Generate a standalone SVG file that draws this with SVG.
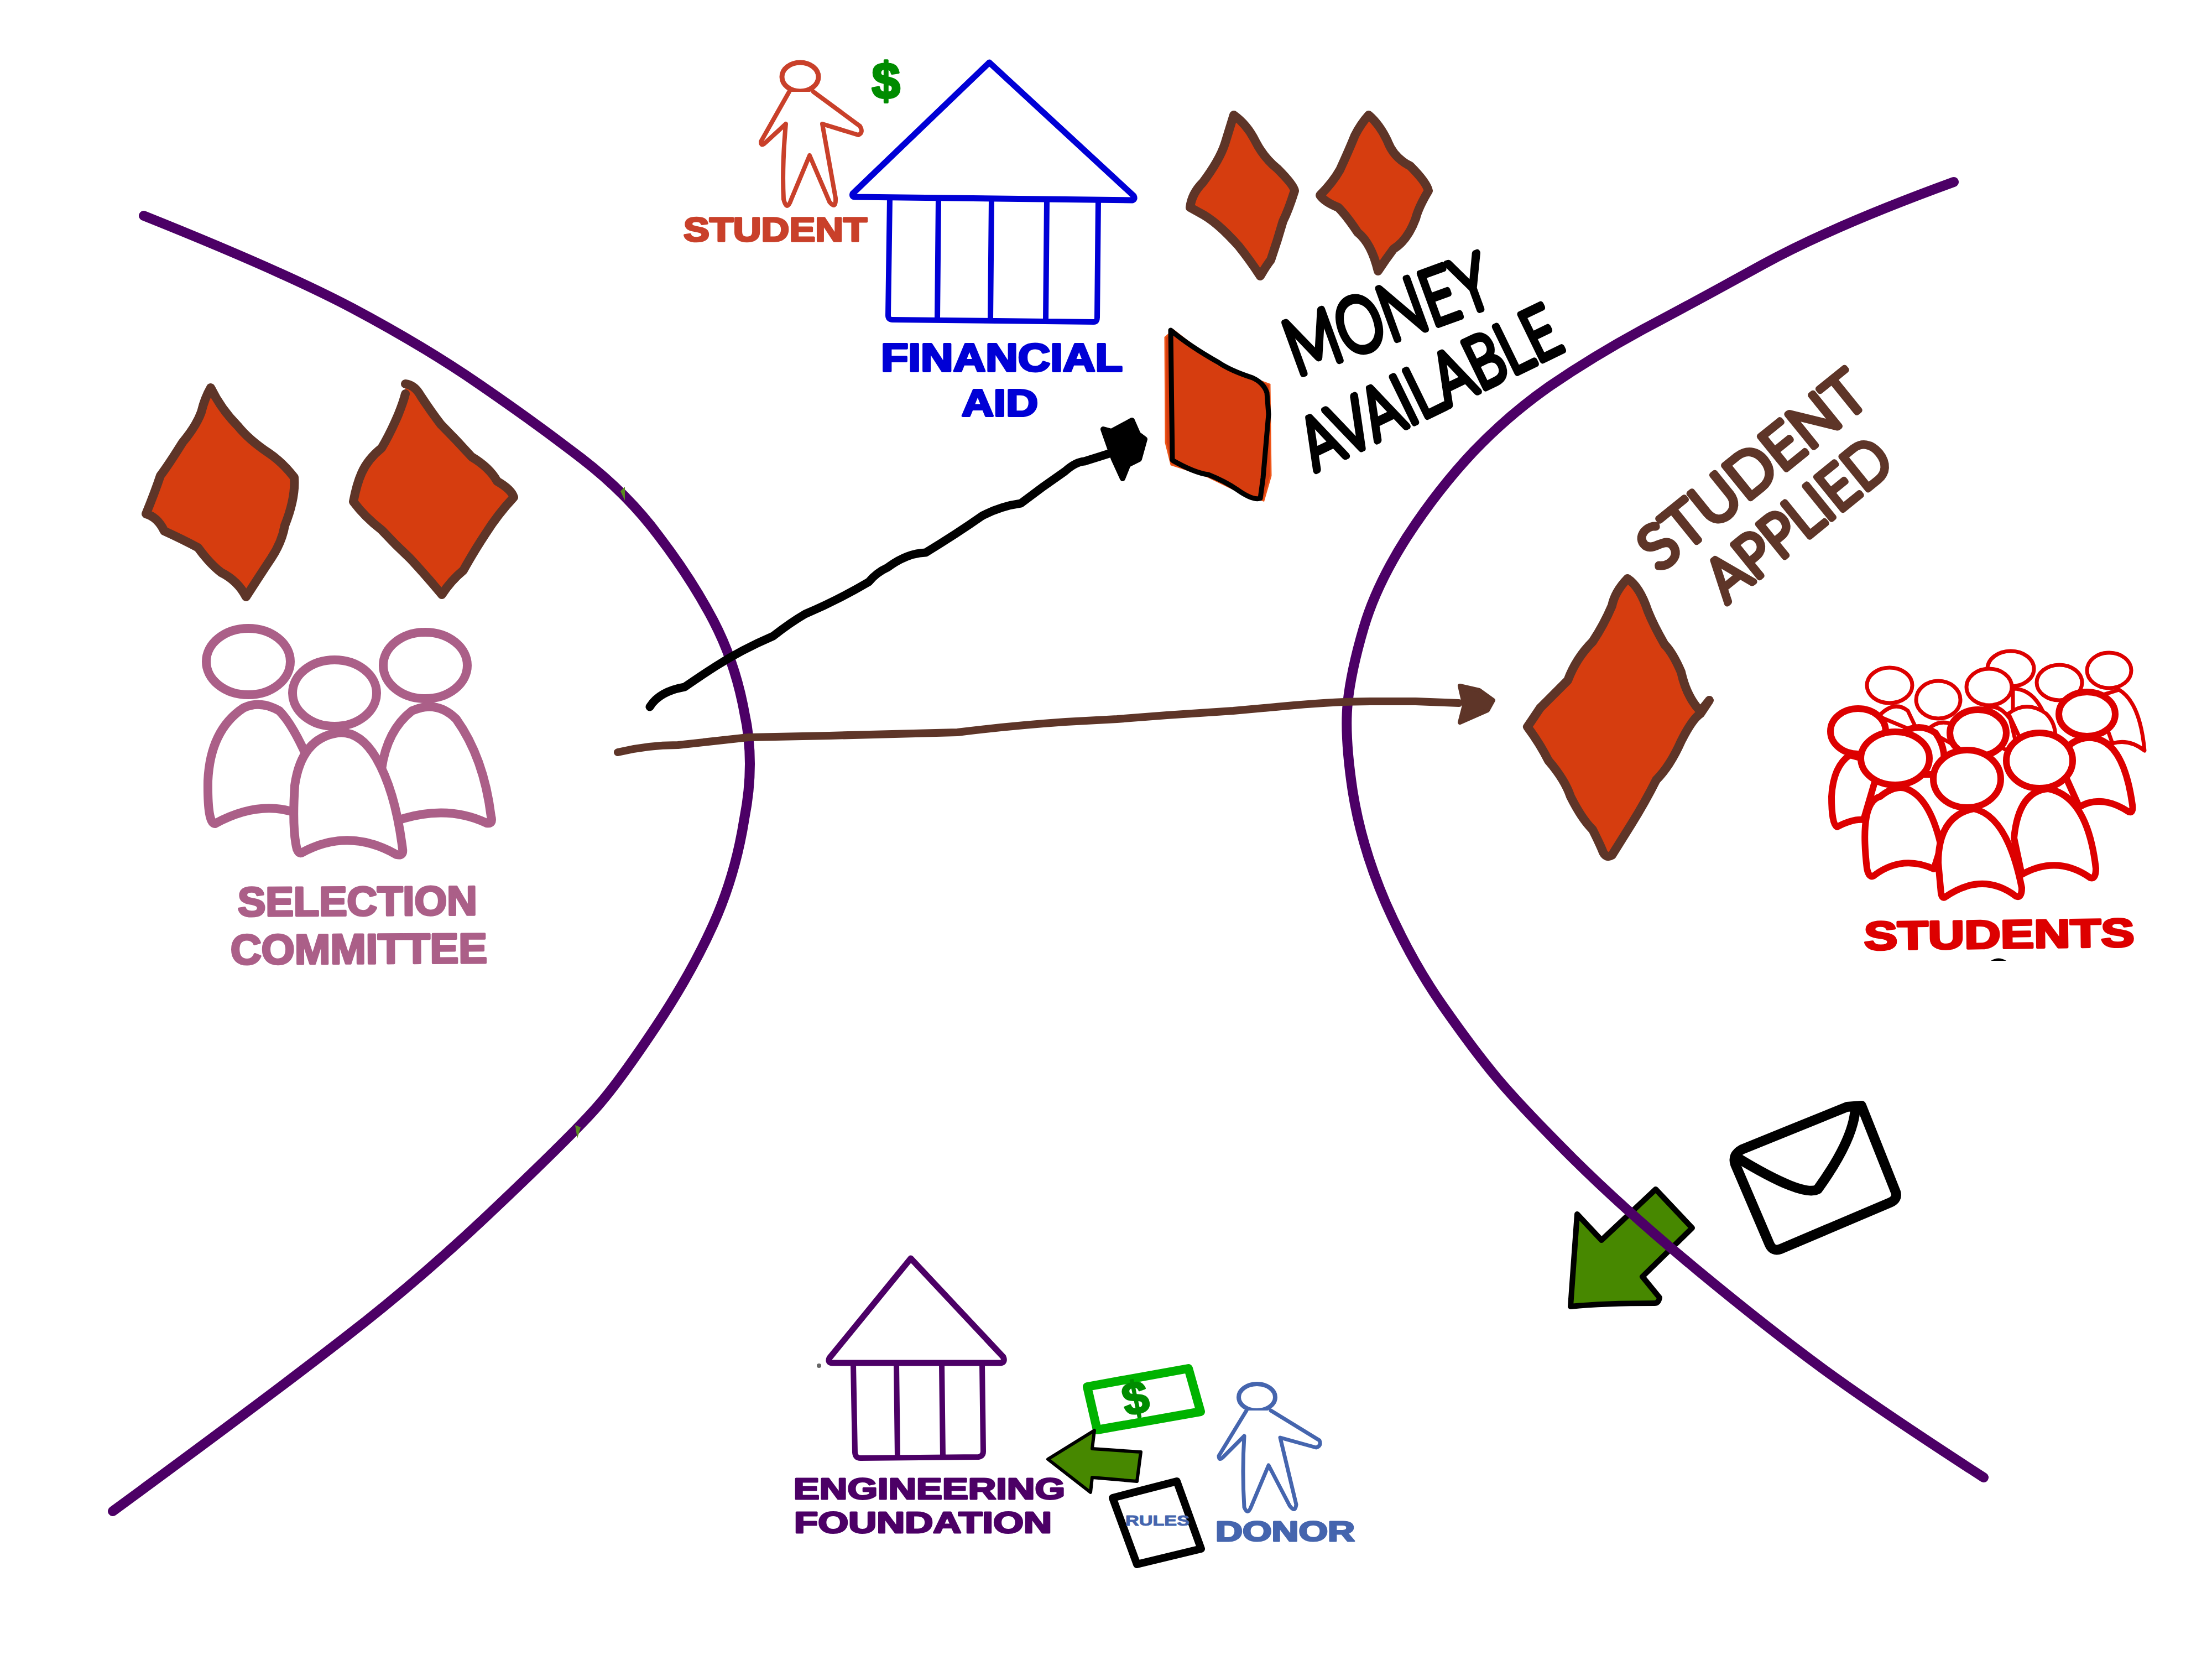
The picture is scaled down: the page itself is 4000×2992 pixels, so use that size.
<svg xmlns="http://www.w3.org/2000/svg" width="4000" height="2992" viewBox="0 0 4000 2992">
<style>
.lbl{font-family:"Liberation Sans",Arial,sans-serif;font-weight:700;stroke-linejoin:round}
.hand{font-family:Lato,"Liberation Sans",sans-serif;font-weight:300;stroke-linejoin:round;stroke-linecap:round}
.ol{fill:#fff;stroke-linejoin:round;stroke-linecap:round}
.no{fill:none;stroke-linejoin:round;stroke-linecap:round}
.dia{fill:#d63d0f;stroke:#5e3528;stroke-width:16;stroke-linejoin:round;stroke-linecap:round}
.curve{fill:none;stroke:#4c0066;stroke-width:18;stroke-linecap:round}
.sc{fill:#fff;stroke:#ab5f88;stroke-width:16;stroke-linejoin:round;stroke-linecap:round}
.sb{fill:#fff;stroke:#dd0000;stroke-width:7;stroke-linejoin:round;stroke-linecap:round}
.sf{fill:#fff;stroke:#dd0000;stroke-width:12;stroke-linejoin:round;stroke-linecap:round}
</style>
<rect width="4000" height="2992" fill="#fff"/>

<g id="envelope">
<path class="ol" stroke="#000" stroke-width="18" d="M3150,2078 L3340,2001 L3366,1999 L3428,2155 Q3432,2168 3418,2174 L3220,2258 Q3206,2263 3200,2250 L3138,2105 Q3132,2088 3150,2078 Z"/>
<path class="no" stroke="#000" stroke-width="18" d="M3140,2092 Q3260,2165 3287,2150 Q3352,2060 3355,2004"/>
</g>

<g id="reply-arrow">
<path fill="#478800" stroke="#000" stroke-width="10" stroke-linejoin="round" d="M2840,2362 L2852,2195 L2896,2242 L2994,2150 L3060,2220 L2970,2308 L3001,2346 Q2999,2356 2992,2356 Q2900,2356 2840,2362 Z"/>
</g>

<g id="curves">
<path class="curve" d="M260,390 Q510,490 637,557 Q765,625 867,695 Q969,765 1052,829 Q1135,893 1192,970 Q1250,1046 1290,1122 Q1330,1199 1346,1288 Q1366,1378 1346,1480 Q1330,1582 1290,1671 Q1250,1760 1186,1856 Q1122,1952 1084,1996 Q1046,2041 905,2175 Q765,2309 625,2417 Q485,2526 204,2732"/>
<path class="curve" d="M3533,329 Q3316,408 3188,478 Q3061,548 2970,596 Q2880,645 2804,697 Q2728,750 2664,817 Q2600,885 2544,971 Q2489,1057 2466,1135 Q2443,1213 2437,1271 Q2431,1330 2446,1430 Q2462,1531 2506,1633 Q2551,1735 2608,1817 Q2666,1900 2708,1950 Q2750,2000 2845,2095 Q2941,2190 3068,2295 Q3195,2400 3297,2475 Q3400,2550 3587,2671"/>
<path fill="#5a8a20" d="M1122,888 L1130,880 L1130,905 Z M1040,2034 L1050,2038 L1044,2058 Z"/>
</g>

<g id="student">
<ellipse class="ol" stroke="#c9402a" stroke-width="9" cx="1447" cy="139" rx="33" ry="26"/>
<path class="ol" stroke="#c9402a" stroke-width="8" d="M1427,166 L1376,256 Q1376,266 1384,258 L1421,224 Q1414,300 1417,360 Q1423,384 1431,360 L1464,281 L1500,365 Q1512,380 1511,358 L1487,224 L1552,244 Q1562,240 1555,228 L1471,166"/>
<text class="lbl" x="1236" y="436" font-size="62" fill="#c9402a" stroke="#c9402a" stroke-width="3.5" textLength="332" lengthAdjust="spacingAndGlyphs">STUDENT</text>
<text class="lbl" x="1602" y="178" font-size="92" text-anchor="middle" fill="#008c00" stroke="#008c00" stroke-width="4">$</text>
</g>

<g id="financial-aid">
<path class="ol" stroke="#0000d6" stroke-width="11" d="M1789,113 L1542,350 Q1540,356 1546,356 L2048,362 Q2053,360 2050,354 Z"/>
<path class="no" stroke="#0000d6" stroke-width="10" d="M1609,358 L1606,570 Q1606,578 1614,578 L1978,582 Q1984,582 1984,574 L1986,362 M1697,360 L1695,576 M1793,360 L1791,578 M1893,362 L1891,580"/>
<text class="lbl" x="1593" y="671" font-size="70" fill="#0000d6" stroke="#0000d6" stroke-width="4" textLength="437" lengthAdjust="spacingAndGlyphs">FINANCIAL</text>
<text class="lbl" x="1739" y="752" font-size="68" fill="#0000d6" stroke="#0000d6" stroke-width="4" textLength="138" lengthAdjust="spacingAndGlyphs">AID</text>
</g>

<g id="money-tokens">
<path class="dia" d="M2231,208 Q2255,225 2270,255 Q2285,285 2310,305 Q2340,335 2341,345 Q2330,380 2320,400 Q2310,435 2298,470 Q2290,480 2279,499 Q2260,470 2240,445 Q2200,400 2170,385 L2152,375 Q2155,350 2175,330 Q2205,290 2215,260 Z"/>
<path class="dia" d="M2475,208 Q2495,225 2509,255 Q2520,285 2550,300 Q2580,330 2583,345 Q2565,375 2560,395 Q2545,435 2520,450 Q2505,470 2492,490 Q2480,440 2455,420 Q2435,390 2420,375 Q2395,365 2387,353 Q2410,330 2423,307 Q2440,270 2450,245 Q2460,225 2475,208 Z"/>
</g>

<g id="money-available">
<path fill="#d63d0f" stroke="#ee5518" stroke-width="3" d="M2107,610 L2122,597 L2203,660 L2296,695 L2298,860 L2285,905 L2270,900 L2232,885 L2180,860 L2118,840 L2108,800 Z"/>
<path class="no" stroke="#000" stroke-width="9" d="M2117,597 L2120,832 Q2160,855 2185,858 Q2215,870 2237,885 Q2265,905 2279,901 L2284,864 L2294,749 L2291,710 Q2285,692 2265,683 Q2225,670 2203,655 Q2150,625 2117,597 Z"/>
<text class="hand" transform="translate(2345,680) rotate(-20)" font-size="139" fill="#000" stroke="#000" stroke-width="12" textLength="385" lengthAdjust="spacingAndGlyphs">MONEY</text>
<text class="hand" transform="translate(2378,852) rotate(-26)" font-size="130" fill="#000" stroke="#000" stroke-width="12" textLength="505" lengthAdjust="spacingAndGlyphs">AVAILABLE</text>
</g>

<g id="selection-tokens">
<path class="dia" d="M381,701 Q370,720 364,745 Q355,770 330,800 Q305,840 290,860 Q280,890 264,929 Q285,935 297,960 Q330,975 358,990 Q380,1020 400,1035 Q430,1050 445,1079 Q470,1040 490,1010 Q510,980 515,950 Q535,900 532,863 Q510,835 486,819 Q450,795 430,770 Q400,740 381,701 Z"/>
<path class="dia" d="M733,694 Q750,696 761,716 Q780,745 797,767 Q825,795 853,826 Q885,845 899,870 Q925,885 929,899 Q900,930 878,965 Q855,1000 838,1031 Q815,1050 799,1075 Q770,1040 741,1009 Q715,985 690,958 Q660,935 639,907 Q645,875 654,855 Q665,830 690,810 Q705,785 720,750 Q730,725 733,712"/>
</g>

<g id="selection-committee">
<ellipse class="sc" cx="449" cy="1196" rx="76" ry="60"/>
<path class="sc" d="M389,1489 Q375,1490 376,1412 Q380,1320 440,1280 Q470,1265 505,1285 Q530,1310 560,1380 L540,1471 Q470,1445 389,1489 Z"/>
<ellipse class="sc" cx="769" cy="1203" rx="76" ry="60"/>
<path class="sc" d="M700,1490 Q800,1450 880,1488 Q892,1490 888,1476 Q875,1370 825,1300 Q790,1265 745,1285 Q700,1320 690,1390 Z"/>
<ellipse class="sc" cx="605" cy="1253" rx="76" ry="60"/>
<path class="sc" d="M545,1542 Q630,1495 717,1545 Q730,1548 728,1535 Q715,1430 680,1370 Q650,1320 610,1325 Q545,1335 533,1420 Q528,1500 537,1535 Q540,1543 545,1542 Z"/>
<text class="lbl" transform="translate(430,1656) rotate(-0.3)" font-size="74" fill="#ab5f88" stroke="#ab5f88" stroke-width="4" textLength="433" lengthAdjust="spacingAndGlyphs">SELECTION</text>
<text class="lbl" transform="translate(417,1743) rotate(-0.3)" font-size="76" fill="#ab5f88" stroke="#ab5f88" stroke-width="4" textLength="464" lengthAdjust="spacingAndGlyphs">COMMITTEE</text>
</g>

<g id="application">
<path class="dia" stroke-width="14" d="M2943,1046 Q2920,1070 2915,1095 Q2900,1130 2880,1160 Q2850,1190 2835,1230 Q2800,1265 2785,1280 Q2765,1310 2762,1314 Q2785,1345 2800,1375 Q2830,1410 2840,1440 Q2860,1480 2880,1500 Q2895,1530 2899,1541 Q2905,1552 2915,1546 L2950,1490 Q2975,1450 2995,1410 Q3020,1385 3040,1340 Q3060,1300 3075,1290 L3091,1266 L3075,1286 Q3050,1260 3040,1215 Q3025,1180 3010,1165 Q2990,1130 2980,1105 Q2965,1060 2943,1046 Z"/>
<text class="hand" transform="translate(3000,1035) rotate(-39)" font-size="108" fill="#5e3528" stroke="#5e3528" stroke-width="11" textLength="495" lengthAdjust="spacingAndGlyphs">STUDENT</text>
<text class="hand" transform="translate(3122,1092) rotate(-39)" font-size="108" fill="#5e3528" stroke="#5e3528" stroke-width="11" textLength="395" lengthAdjust="spacingAndGlyphs">APPLIED</text>
</g>

<g id="students">
<path class="sb" d="M3820,1344 Q3850,1335 3878,1357 Q3870,1270 3832,1247 L3790,1260 Z"/>
<ellipse class="sb" cx="3814" cy="1212" rx="40" ry="32"/>
<path class="sb" d="M3640,1300 L3640,1245 Q3680,1245 3700,1300 Z"/>
<ellipse class="sb" cx="3636" cy="1209" rx="42" ry="32"/>
<path class="sb" d="M3397,1295 Q3425,1265 3450,1285 L3469,1325 Z"/>
<ellipse class="sb" cx="3417" cy="1239" rx="41" ry="32"/>
<ellipse class="sb" cx="3724" cy="1234" rx="41" ry="32"/>
<path class="sb" d="M3485,1320 Q3510,1295 3540,1315 L3530,1345 Z"/>
<ellipse class="sb" cx="3505" cy="1265" rx="40" ry="34"/>
<path class="sb" d="M3632,1290 Q3665,1265 3700,1290 Q3720,1310 3716,1340 L3660,1350 Z"/>
<path class="sb" d="M3581,1285 Q3610,1265 3635,1300 L3652,1370 L3600,1340 Z"/>
<ellipse class="sb" cx="3597" cy="1242" rx="41" ry="33"/>
<path class="sf" stroke-width="9" d="M3322,1495 Q3312,1490 3312,1440 Q3315,1385 3345,1365 L3400,1380 L3370,1482 Q3350,1480 3322,1495 Z"/>
<ellipse class="sf" stroke-width="9" cx="3360" cy="1322" rx="50" ry="41"/>
<path class="sf" stroke-width="9" d="M3760,1459 Q3800,1435 3850,1468 Q3858,1470 3856,1455 Q3840,1340 3784,1334 Q3750,1330 3720,1370 Z"/>
<ellipse class="sf" stroke-width="9" cx="3774" cy="1291" rx="51" ry="40"/>
<path class="sf" stroke-width="9" d="M3440,1325 Q3470,1305 3500,1325 Q3525,1360 3510,1400 L3440,1400 Z"/>
<ellipse class="sf" stroke-width="9" cx="3577" cy="1325" rx="51" ry="42"/>
<path class="sf" d="M3497,1571 Q3440,1545 3390,1582 Q3380,1590 3376,1570 Q3362,1450 3400,1440 Q3425,1420 3445,1425 Q3490,1440 3510,1530 Z"/>
<ellipse class="sf" cx="3427" cy="1371" rx="62" ry="48"/>
<path class="sf" d="M3656,1581 Q3720,1545 3780,1587 Q3790,1590 3790,1570 Q3775,1440 3704,1426 Q3650,1430 3642,1515 Z"/>
<ellipse class="sf" cx="3688" cy="1375" rx="60" ry="50"/>
<path class="sf" d="M3517,1622 Q3585,1575 3645,1620 Q3656,1625 3656,1605 Q3630,1475 3569,1462 Q3505,1475 3505,1560 L3510,1615 Q3512,1625 3517,1622 Z"/>
<ellipse class="sf" cx="3557" cy="1408" rx="61" ry="52"/>
<text class="lbl" transform="translate(3371,1717) rotate(-0.7)" font-size="72" fill="#dd0000" stroke="#dd0000" stroke-width="4" textLength="489" lengthAdjust="spacingAndGlyphs">STUDENTS</text>
<path fill="#000" d="M3600,1737 Q3614,1728 3628,1737 Z"/>
</g>

<g id="engineering-foundation">
<path class="ol" stroke="#4c0066" stroke-width="11" d="M1647,2275 L1500,2455 Q1496,2464 1506,2464 L1810,2464 Q1818,2462 1814,2453 Z"/>
<path class="no" stroke="#4c0066" stroke-width="10" d="M1543,2466 L1546,2626 Q1547,2636 1556,2636 L1770,2634 Q1778,2632 1778,2624 L1776,2466 M1621,2466 L1623,2634 M1703,2466 L1705,2634"/>
<circle cx="1481" cy="2469" r="4" fill="#666"/>
<text class="lbl" x="1435" y="2710" font-size="53" fill="#4c0066" stroke="#4c0066" stroke-width="3" textLength="491" lengthAdjust="spacingAndGlyphs">ENGINEERING</text>
<text class="lbl" x="1436" y="2771" font-size="53" fill="#4c0066" stroke="#4c0066" stroke-width="3" textLength="466" lengthAdjust="spacingAndGlyphs">FOUNDATION</text>
</g>

<g id="donor">
<ellipse class="ol" stroke="#4565ae" stroke-width="8" cx="2273" cy="2526" rx="33" ry="24"/>
<path class="ol" stroke="#4565ae" stroke-width="7" d="M2254,2550 L2204,2632 Q2204,2642 2212,2634 L2250,2596 Q2246,2660 2250,2725 Q2256,2740 2262,2725 L2294,2649 L2332,2722 Q2342,2736 2344,2720 L2315,2599 L2380,2617 Q2390,2614 2386,2604 L2298,2550"/>
<text class="lbl" x="2198" y="2786" font-size="50" fill="#4565ae" stroke="#4565ae" stroke-width="3" textLength="252" lengthAdjust="spacingAndGlyphs">DONOR</text>
</g>

<g id="money-bill">
<path class="ol" stroke="#00b300" stroke-width="16" d="M1966,2507 L2149,2474 L2171,2552 L1984,2585 Z"/>
<text class="lbl" transform="translate(2059,2556) rotate(-12)" font-size="84" text-anchor="middle" fill="#008c00" stroke="#008c00" stroke-width="3">$</text>
</g>

<g id="donation-arrow">
<path fill="#478800" stroke="#000" stroke-width="6" stroke-linejoin="round" d="M1895,2638 L1979,2586 L1975,2619 L2063,2625 L2056,2678 L1975,2671 L1972,2698 Z"/>
</g>

<g id="rules">
<path class="ol" stroke="#000" stroke-width="14" d="M2012,2708 L2128,2678 L2172,2800 L2056,2828 Z"/>
<text class="lbl" x="2035" y="2758" font-size="25" fill="#4565ae" stroke="#4565ae" stroke-width="1" textLength="116" lengthAdjust="spacingAndGlyphs">RULES</text>
</g>

<g id="connectors">
<path class="no" stroke="#000" stroke-width="15" d="M1175,1278 Q1192,1250 1238,1242 Q1270,1220 1295,1204 Q1340,1175 1398,1150 Q1430,1125 1456,1110 Q1515,1085 1571,1052 Q1585,1035 1605,1026 Q1640,1000 1674,999 Q1730,965 1777,932 Q1810,915 1846,910 Q1885,880 1926,852 Q1945,835 1961,834 Q1990,825 2018,816"/>
<path fill="#000" stroke="#000" stroke-width="10" stroke-linejoin="round" d="M1995,776 L2010,780 L2047,760 L2058,785 L2070,794 L2060,830 L2040,840 L2030,865 L2014,830 Z"/>
<path class="no" stroke="#5e3528" stroke-width="14" d="M1117,1360 Q1170,1347 1226,1347 Q1290,1340 1353,1333 L1500,1330 L1731,1324 Q1827,1312 1927,1305 L2020,1300 L2110,1293 L2230,1285 L2340,1275 Q2420,1268 2478,1268 L2560,1268 L2638,1271"/>
<path fill="#5e3528" stroke="#5e3528" stroke-width="8" stroke-linejoin="round" d="M2640,1240 L2675,1248 L2700,1266 L2690,1284 L2640,1306 L2648,1275 Z"/>
</g>
</svg>
